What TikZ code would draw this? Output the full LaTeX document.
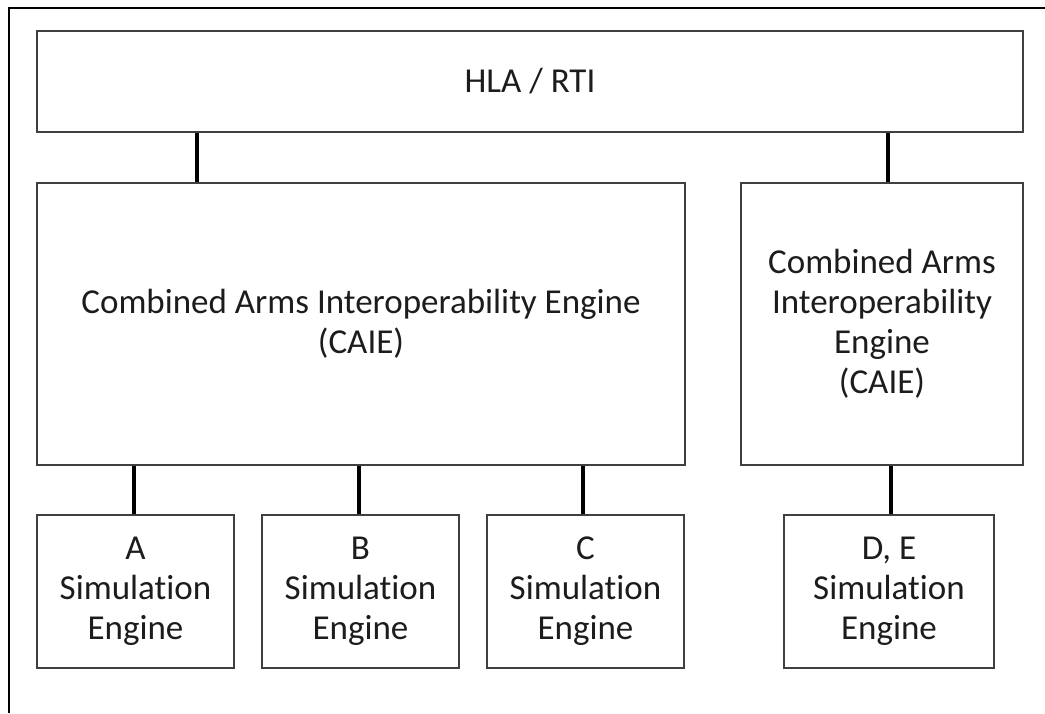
\documentclass[tikz,border=0pt]{standalone}
\usepackage{fontspec}
\setmainfont{Carlito}[Ligatures={NoCommon}]
\definecolor{ink}{HTML}{1C1C1C}
\definecolor{boxline}{HTML}{404040}

\begin{document}
\begin{tikzpicture}[
  x=0.5pt,y=-0.5pt,
  box/.style={rectangle,draw=boxline,line width=1pt,fill=white,inner sep=0pt,text=ink,align=center,font=\fontsize{17.5}{20}\selectfont},
  bar/.style={box,minimum width=493pt,minimum height=50.5pt},
  caiebig/.style={box,minimum width=324pt,minimum height=141pt},
  caiesmall/.style={box,minimum width=141pt,minimum height=141pt},
  simeng/.style={box,minimum width=98.5pt,minimum height=76.5pt},
  link/.style={draw=black,line width=2pt}
]
\useasboundingbox (0,0) rectangle (1045,713);
\fill[white] (0,0) rectangle (1045,713);
\draw[black,line width=1pt] (9,713) -- (9,8) -- (1045,8);

\node[bar] (hla) at (530,81.5) {HLA / RTI};
\node[caiebig] (caieL) at (361,324) {Combined Arms Interoperability Engine\\(CAIE)};
\node[caiesmall] (caieR) at (882,324) {Combined Arms\\Interoperability\\Engine\\(CAIE)};
\node[simeng] (simA) at (135.5,591.5) {A\\Simulation\\Engine};
\node[simeng] (simB) at (360.5,591.5) {B\\Simulation\\Engine};
\node[simeng] (simC) at (585.5,591.5) {C\\Simulation\\Engine};
\node[simeng,minimum width=105pt] (simDE) at (889,591.5) {D, E\\Simulation\\Engine};

\draw[link] (hla.south -| 197,0) -- (caieL.north -| 197,0);
\draw[link] (hla.south -| 888,0) -- (caieR.north -| 888,0);
\draw[link] (caieL.south -| 134,0) -- (simA.north -| 134,0);
\draw[link] (caieL.south -| 359,0) -- (simB.north -| 359,0);
\draw[link] (caieL.south -| 583,0) -- (simC.north -| 583,0);
\draw[link] (caieR.south -| 891,0) -- (simDE.north -| 891,0);
\end{tikzpicture}
\end{document}
